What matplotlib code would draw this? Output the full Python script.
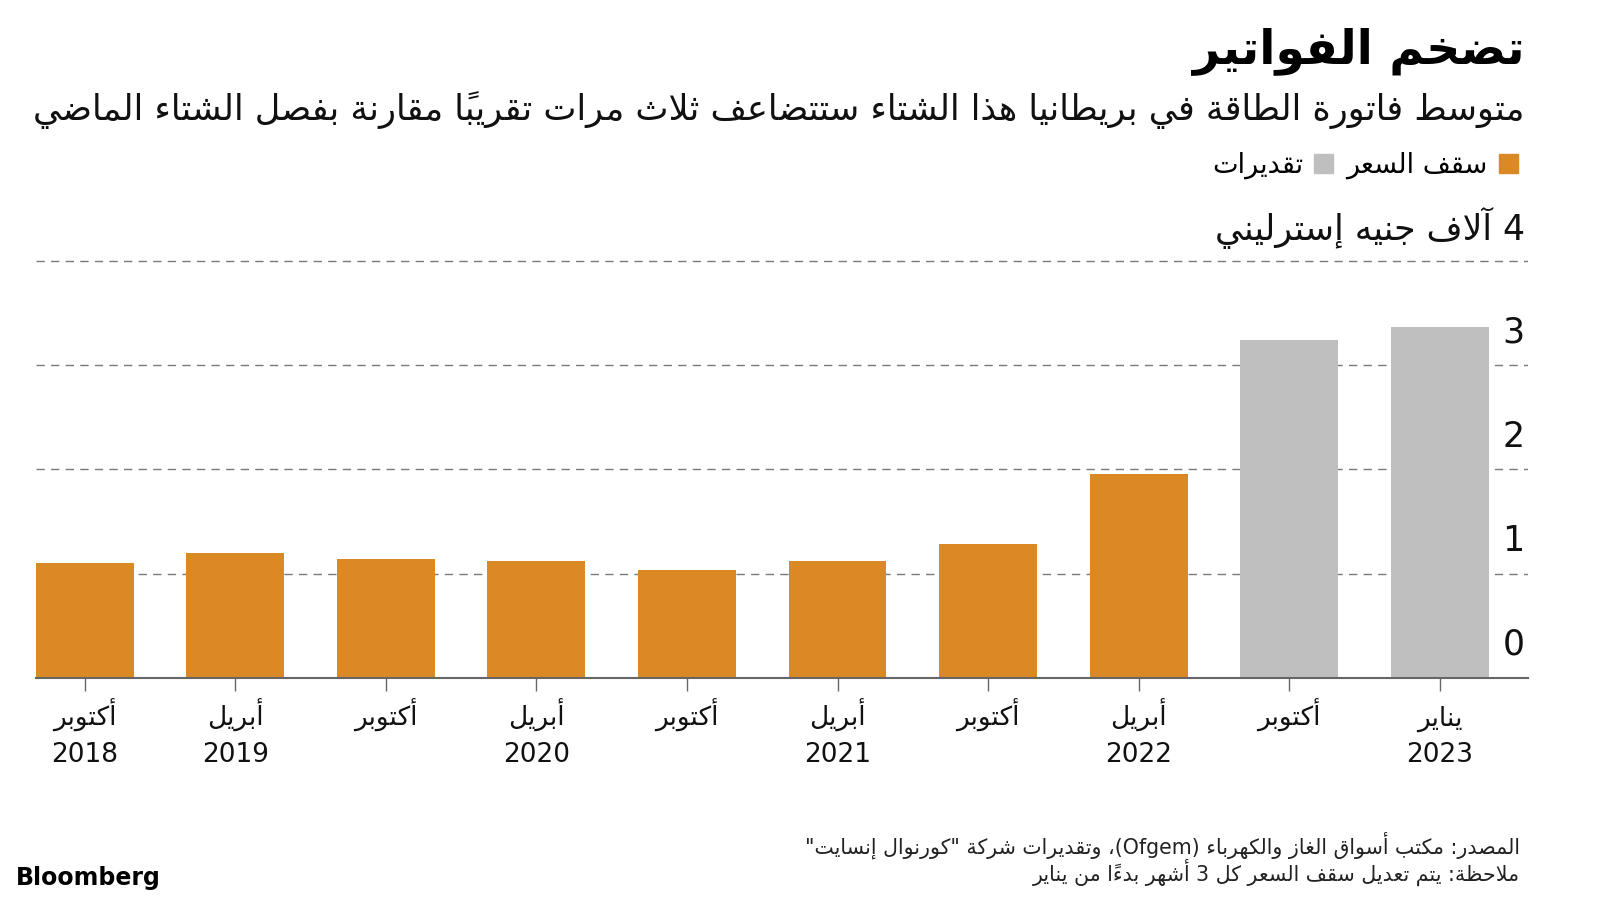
import matplotlib
matplotlib.use("Agg")
import matplotlib.pyplot as plt
import matplotlib.transforms as mtransforms
from matplotlib.patches import Patch

# البيانات (آلاف الجنيهات الإسترلينية)
months = ["أكتوبر", "أبريل", "أكتوبر", "أبريل", "أكتوبر",
          "أبريل", "أكتوبر", "أبريل", "أكتوبر", "يناير"]
years = ["2018", "2019", "", "2020", "", "2021", "", "2022", "", "2023"]
values = [1.10, 1.20, 1.14, 1.12, 1.03, 1.12, 1.28, 1.96, 3.24, 3.37]
is_estimate = [False] * 8 + [True] * 2
yticks = [0, 1, 2, 3]

title = "تضخم الفواتير"
subtitle = "متوسط فاتورة الطاقة في بريطانيا هذا الشتاء ستتضاعف ثلاث مرات تقريباً مقارنة بفصل الشتاء الماضي"
legend_labels = ["سقف السعر", "تقديرات"]
unit_label = "4 آلاف جنيه إسترليني"
source = 'المصدر: مكتب أسواق الغاز والكهرباء (Ofgem)، وتقديرات شركة "كورنوال إنسايت"'
note = "ملاحظة: يتم تعديل سقف السعر كل 3 أشهر بدءاً من يناير"

ORANGE = "#DA8925"
GREY = "#BFBFBF"

# --- تشكيل الحروف العربية يدوياً (matplotlib لا يدعم التشكيل ولا الاتجاه من اليمين) ---
_order = [0x621] + list(range(0x622, 0x63B)) + list(range(0x641, 0x64B))
_counts = [1, 2, 2, 2, 2, 4, 2, 4, 2, 4, 4, 4, 4, 4, 2, 2, 2, 2, 4, 4, 4, 4, 4, 4, 4, 4,
           4, 4, 4, 4, 4, 4, 4, 2, 2, 4]
FORMS = {}
_b = 0xFE80
for c, n in zip(_order, _counts):
    FORMS[c] = (_b, n)
    _b += n
LAM_ALEF = {0x622: 0xFEF5, 0x623: 0xFEF7, 0x625: 0xFEF9, 0x627: 0xFEFB}


def _mark(ch):
    o = ord(ch)
    return 0x64B <= o <= 0x65F or o == 0x670


def _dual(ch):
    return ch is not None and ord(ch) in FORMS and FORMS[ord(ch)][1] == 4


def _joinable(ch):
    return ch is not None and ord(ch) in FORMS and ord(ch) != 0x621


def _line(s):
    chars = list(s)
    n = len(chars)

    def prev(i):
        j = i - 1
        while j >= 0 and _mark(chars[j]):
            j -= 1
        return chars[j] if j >= 0 else None

    def nxt(i):
        j = i + 1
        while j < n and _mark(chars[j]):
            j += 1
        return chars[j] if j < n else None

    clusters = []
    i = 0
    while i < n:
        ch = chars[i]
        o = ord(ch)
        if _mark(ch) and clusters:
            clusters[-1] += ch
        elif o == 0x644 and i + 1 < n and ord(chars[i + 1]) in LAM_ALEF:
            jp = _dual(prev(i))
            clusters.append(chr(LAM_ALEF[ord(chars[i + 1])] + (1 if jp else 0)))
            i += 1
        elif o in FORMS:
            base, k = FORMS[o]
            jp = _dual(prev(i)) and o != 0x621
            jn = k == 4 and _joinable(nxt(i))
            if k == 1:
                idx = 0
            elif k == 2:
                idx = 1 if jp else 0
            else:
                idx = 3 if (jp and jn) else 1 if jp else 2 if jn else 0
            clusters.append(chr(base + idx))
        else:
            clusters.append(ch)
        i += 1

    # ترتيب العرض: نعكس الترتيب مع إبقاء الأرقام واللاتينية كما هي
    tokens = []
    for c in clusters:
        ltr = c.isascii() and c.isalnum()
        if ltr and tokens and tokens[-1][0]:
            tokens[-1][1] += c
        else:
            tokens.append([ltr, c])
    mirror = {"(": ")", ")": "("}
    return "".join(mirror.get(t, t) for _, t in reversed(tokens))


def ar(s):
    return "\n".join(_line(l) for l in s.split("\n"))


plt.rcParams["font.family"] = ["DejaVu Sans"]

fig = plt.figure(figsize=(16, 9), dpi=100)
ax = fig.add_axes([0.0223, 0.247, 0.9325, 0.4974])

x = list(range(len(values)))
colors = [GREY if e else ORANGE for e in is_estimate]
ax.bar(x, values, width=0.65, color=colors, zorder=2)

ax.set_xlim(-0.325, 9.583)
ax.set_ylim(0, 4.3)
ax.set_yticks([1, 2, 3, 4])
ax.tick_params(axis="y", length=0, labelleft=False)
ax.grid(axis="y", color="#7a7a7a", linestyle=(0, (6, 4.5)), linewidth=1)
ax.set_axisbelow(True)
for s in ["left", "right", "top"]:
    ax.spines[s].set_visible(False)
ax.spines["bottom"].set_color("#666666")
ax.spines["bottom"].set_linewidth(1.5)

ax.set_xticks(x)
ax.set_xticklabels([])
ax.tick_params(axis="x", length=9, width=1, color="#666666")

# تسميات المحور السيني: الشهر ثم السنة
xt = mtransforms.blended_transform_factory(ax.transData, ax.transAxes)
for xi, m, y in zip(x, months, years):
    ax.text(xi, -0.108, ar(m), transform=xt, ha="center", va="baseline",
            fontsize=19, color="#111111")
    if y:
        ax.text(xi, -0.188, y, transform=xt, ha="center", va="baseline",
                fontsize=19, color="#111111")

# أرقام المحور الصادي على اليمين فوق خطوط الشبكة
tr = mtransforms.blended_transform_factory(ax.transAxes, ax.transData)
for v in yticks:
    ax.text(0.998, v + 0.22, str(v), transform=tr, ha="right", va="baseline",
            fontsize=25, color="#111111")
ax.text(0.998, 4 + 0.2, ar(unit_label), transform=tr, ha="right", va="baseline",
        fontsize=25, color="#111111")

# العنوان والعنوان الفرعي
fig.text(0.953, 0.943, ar(title), ha="right", va="center", fontsize=34,
         fontweight="bold", color="#000000")
fig.text(0.953, 0.878, ar(subtitle), ha="right", va="center", fontsize=25.3,
         color="#111111")

# وسيلة الإيضاح
handles = [Patch(color=GREY), Patch(color=ORANGE)]
fig.legend(handles, [ar(legend_labels[1]), ar(legend_labels[0])], ncol=2,
           markerfirst=False, loc="center right", bbox_to_anchor=(0.957, 0.816),
           frameon=False, fontsize=19.5, handlelength=0.7, handleheight=0.7,
           handletextpad=0.4, columnspacing=0.5, borderpad=0)

# المصدر والملاحظة
fig.text(0.95, 0.061, ar(source), ha="right", va="center", fontsize=14.8, color="#222222")
fig.text(0.95, 0.031, ar(note), ha="right", va="center", fontsize=14.8, color="#222222")
fig.text(0.01, 0.024, "Bloomberg", ha="left", va="center", fontsize=17,
         fontweight="bold", color="#000000")

fig.savefig("out.png", dpi=100, facecolor="white")
